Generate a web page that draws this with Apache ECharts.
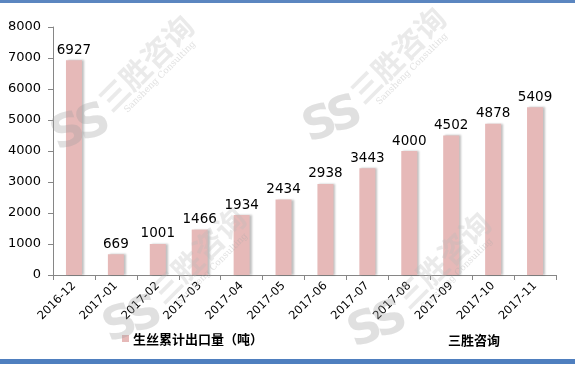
<!DOCTYPE html>
<html>
<head>
<meta charset="utf-8">
<script src="https://cdn.jsdelivr.net/npm/echarts@6/dist/echarts.min.js"></script>
<style>
  html, body { margin: 0; padding: 0; background: #fff; }
  #chart { width: 575px; height: 366px; }
</style>
</head>
<body>
<div id="chart"></div>
<script>
// Cumulative raw silk exports (tonnes), Dec 2016 – Nov 2017
const categories = ['2016-12', '2017-01', '2017-02', '2017-03', '2017-04', '2017-05',
                    '2017-06', '2017-07', '2017-08', '2017-09', '2017-10', '2017-11'];
const exportTons = [6927, 669, 1001, 1466, 1934, 2434, 2938, 3443, 4000, 4502, 4878, 5409];
const seriesName = '生丝累计出口量（吨）';
const sourceLabel = '三胜咨询';

const numFont = 'DejaVu Sans';

// Brand watermark stamps (logo centre points)
const stampPoints = [[83, 128], [335, 120], [135, 320], [380, 325]];

function stamp(p) {
  const [lx, ly] = p;
  const grey = 'rgba(160,160,160,0.32)';
  return [
    {
      type: 'text', z: 100, x: lx + 1, y: ly, rotation: 0.35,
      style: { text: 'S', fill: grey, font: 'bold 46px "DejaVu Sans"', align: 'right', verticalAlign: 'middle' }
    },
    {
      type: 'text', z: 100, x: lx - 5, y: ly + 2, rotation: 0.35,
      style: { text: 'S', fill: grey, font: 'bold 46px "DejaVu Sans"', align: 'left', verticalAlign: 'middle' }
    },
    {
      type: 'text', z: 100, x: lx + 63, y: ly - 65, rotation: Math.PI / 4,
      style: { text: '三胜咨询', fill: 'rgba(185,185,185,0.3)', font: 'bold 30px "Noto Sans CJK SC"',
               align: 'center', verticalAlign: 'middle' }
    },
    {
      type: 'text', z: 100, x: lx + 77, y: ly - 51, rotation: Math.PI / 4,
      style: { text: 'Sansheng Consulting', fill: 'rgba(170,170,170,0.35)', font: '9px "DejaVu Serif"',
               align: 'center', verticalAlign: 'middle' }
    }
  ];
}

const chart = echarts.init(document.getElementById('chart'), null, { renderer: 'canvas' });

chart.setOption({
  backgroundColor: '#ffffff',
  animation: false,
  grid: { left: 53, right: 19, top: 27, bottom: 91, containLabel: false },
  xAxis: {
    type: 'category',
    data: categories,
    boundaryGap: true,
    axisLine: { lineStyle: { color: '#868686', width: 1 } },
    axisTick: { show: true, alignWithLabel: false, length: 5, lineStyle: { color: '#868686' } },
    axisLabel: { rotate: 45, color: '#000', fontFamily: numFont, fontSize: 11.5, margin: 9, interval: 0 }
  },
  yAxis: {
    type: 'value',
    min: 0, max: 8000, interval: 1000,
    splitLine: { show: false },
    axisLine: { show: true, lineStyle: { color: '#868686', width: 1 } },
    axisTick: { show: true, inside: false, length: 5, lineStyle: { color: '#868686' } },
    axisLabel: { color: '#000', fontFamily: numFont, fontSize: 13, margin: 12,
                 formatter: v => String(v) }
  },
  series: [{
    name: seriesName,
    type: 'bar',
    data: exportTons,
    barWidth: 16,
    itemStyle: {
      color: '#E6B9B8',
      shadowColor: 'rgba(0,0,0,0.25)',
      shadowBlur: 2,
      shadowOffsetX: 2,
      shadowOffsetY: 0
    },
    label: {
      show: true, position: 'top', distance: 3,
      color: '#000', fontFamily: numFont, fontSize: 13.5
    }
  }],
  graphic: [
    // frame lines
    { type: 'rect', z: 50, shape: { x: 0, y: 0, width: 575, height: 3 }, style: { fill: '#5b86c0' } },
    { type: 'rect', z: 50, shape: { x: 0, y: 359, width: 575, height: 5 }, style: { fill: '#4f7fbf' } },
    // legend
    { type: 'rect', z: 50, shape: { x: 122, y: 335, width: 7, height: 7 }, style: { fill: '#E6B9B8' } },
    { type: 'text', z: 50, x: 133, y: 339,
      style: { text: seriesName, fill: '#000', font: 'bold 13px "Noto Sans CJK SC"', verticalAlign: 'middle' } },
    { type: 'text', z: 50, x: 448, y: 340,
      style: { text: sourceLabel, fill: '#000', font: 'bold 13px "Noto Sans CJK SC"', verticalAlign: 'middle' } }
  ].concat(...stampPoints.map(stamp))
});
</script>
</body>
</html>
